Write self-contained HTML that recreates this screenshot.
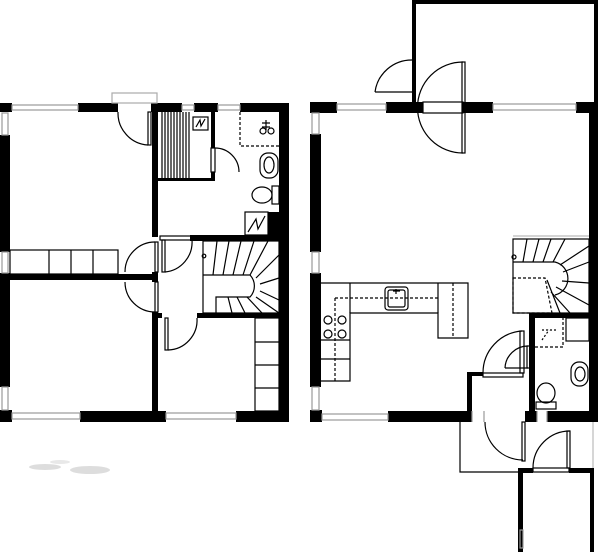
<!DOCTYPE html>
<html><head><style>body{margin:0;background:#fff}svg{display:block}</style></head><body>
<svg width="600" height="552" viewBox="0 0 600 552" xmlns="http://www.w3.org/2000/svg">
<g fill="#ddd">
<ellipse cx="45" cy="467" rx="16" ry="3"/>
<ellipse cx="90" cy="470" rx="20" ry="4"/>
<ellipse cx="60" cy="462" rx="10" ry="2" fill="#e8e8e8"/>
</g>
<g fill="#000">
<rect x="0" y="103" width="12" height="9"/>
<rect x="78" y="103" width="40" height="9"/>
<rect x="151" y="103" width="31" height="9"/>
<rect x="194" y="103" width="24" height="9"/>
<rect x="240" y="103" width="49" height="9"/>
<rect x="0" y="135" width="10" height="117"/>
<rect x="0" y="273" width="10" height="114"/>
<rect x="0" y="410" width="12" height="12"/>
<rect x="80" y="411" width="86" height="11"/>
<rect x="236" y="411" width="53" height="11"/>
<rect x="279" y="103" width="10" height="319"/>
<rect x="152" y="103" width="6" height="134"/>
<rect x="152" y="272" width="6" height="10"/>
<rect x="152" y="312" width="6" height="110"/>
<rect x="0" y="274" width="155" height="6"/>
<rect x="190" y="235" width="99" height="6"/>
<rect x="155" y="313" width="7" height="5"/>
<rect x="197" y="313" width="92" height="5"/>
<rect x="268" y="212" width="11" height="23"/>
<rect x="158" y="178" width="56" height="3"/>
<rect x="211" y="112" width="4" height="36"/>
<rect x="211" y="172" width="4" height="9"/>
<rect x="310" y="102" width="27" height="11"/>
<rect x="386" y="102" width="37" height="11"/>
<rect x="463" y="102" width="30" height="11"/>
<rect x="576" y="102" width="22" height="11"/>
<rect x="310" y="134" width="11" height="118"/>
<rect x="310" y="273" width="11" height="114"/>
<rect x="310" y="410" width="12" height="12"/>
<rect x="388" y="411" width="84" height="11"/>
<rect x="525" y="411" width="12" height="11"/>
<rect x="547" y="411" width="51" height="11"/>
<rect x="589" y="102" width="9" height="320"/>
<rect x="412" y="0" width="4" height="102"/>
<rect x="412" y="0" width="186" height="4"/>
<rect x="594" y="0" width="4" height="102"/>
<rect x="529" y="313" width="69" height="5"/>
<rect x="529" y="313" width="6" height="98"/>
<rect x="467" y="372" width="5" height="40"/>
<rect x="472" y="372" width="11" height="4"/>
<rect x="518" y="468" width="15" height="5"/>
<rect x="569" y="468" width="25" height="5"/>
<rect x="518" y="468" width="5" height="84"/>
<rect x="590" y="468" width="4" height="84"/>
</g>
<g fill="none" stroke="#000" stroke-width="1.2">
<rect x="12" y="105" width="66" height="5" stroke="#999"/>
<rect x="182" y="105" width="12" height="5" stroke="#999"/>
<rect x="218" y="105" width="22" height="5" stroke="#999"/>
<rect x="12" y="413" width="68" height="6" stroke="#999"/>
<rect x="166" y="413" width="70" height="6" stroke="#999"/>
<rect x="2" y="113" width="6" height="22" stroke="#999"/>
<rect x="2" y="252" width="6" height="21" stroke="#999"/>
<rect x="2" y="387" width="6" height="23" stroke="#999"/>
<rect x="112" y="93" width="45" height="10" stroke="#aaa"/>
<rect x="148" y="112" width="3" height="33"/>
<path d="M118 112 A32 32 0 0 0 148 145"/>
<rect x="155" y="242" width="3" height="30"/>
<path d="M125 272 A30 30 0 0 1 155 242"/>
<rect x="155" y="282" width="3" height="30"/>
<path d="M125 282 A30 30 0 0 0 155 312"/>
<rect x="160" y="236" width="32" height="4"/>
<rect x="162" y="240" width="3" height="32"/>
<path d="M192 240 A30 30 0 0 1 165 272"/>
<rect x="165" y="318" width="3" height="32"/>
<path d="M197 318 A30 30 0 0 1 168 350"/>
<rect x="211" y="148" width="4" height="24"/>
<path d="M215 148 A24 24 0 0 1 239 172"/>
<path d="M162 112V178M165 112V178M168 112V178M171 112V178M174 112V178M177 112V178M180 112V178M183 112V178M186 112V178M189 112V178"/>
<rect x="193" y="117" width="15" height="13"/>
<path d="M196 127 L200 120 L201 126 L205 119"/>
<path d="M240 112V146H279" stroke-dasharray="3 2"/>
<path d="M262 123h8M262 127h8M266 120v10"/>
<circle cx="263" cy="131" r="3"/><circle cx="271" cy="131" r="3"/>
<rect x="260" y="153" width="18" height="25" rx="8"/>
<ellipse cx="269" cy="165" rx="5" ry="8"/>
<rect x="272" y="186" width="7" height="18"/>
<ellipse cx="262" cy="195" rx="10" ry="8"/>
<rect x="245" y="212" width="23" height="23"/>
<path d="M248 232 L256 219 L258 229 L265 216"/>
<rect x="10" y="250" width="108" height="24"/>
<path d="M49 250v24M71 250v24M93 250v24"/>
<rect x="255" y="318" width="24" height="93"/>
<path d="M255 342h24M255 365h24M255 388h24"/>
<rect x="203" y="241" width="76" height="72"/>
<path d="M203 275 H250 A16 16 0 0 1 250 297 H216 V313"/>
<path d="M213 275 L217 241M223 275 L229 241M233 275 L241 241M243 275 L254 241M250 275 L268 241M256 278 L279 255M260 284 L279 278M260 291 L279 300M256 297 L279 313M247 297 L262 313M237 297 L245 313M228 297 L232 313"/>
<circle cx="204" cy="256" r="1.8"/>
<rect x="337" y="104" width="49" height="6" stroke="#999"/>
<rect x="493" y="104" width="83" height="6" stroke="#999"/>
<rect x="322" y="414" width="66" height="6" stroke="#999"/>
<rect x="312" y="113" width="7" height="21" stroke="#999"/>
<rect x="312" y="252" width="7" height="21" stroke="#999"/>
<rect x="312" y="387" width="7" height="23" stroke="#999"/>
<path d="M472 411v11M484 411v11M537 411v11M547 411v11" stroke="#999"/>
<path d="M375 92 H412 M412 60 A37 37 0 0 0 375 92"/>
<rect x="423" y="102" width="40" height="11"/>
<rect x="462" y="62" width="3" height="91"/>
<path d="M463 62 A45 45 0 0 0 463 153" />
<path d="M321 283 H468 V338 H438 V313 H350 V381 H321"/>
<path d="M350 283V313M438 283V313M321 340H350M321 359H350"/>
<path d="M335 298H440M335 298V381M453 283V338" stroke-dasharray="3 2"/>
<rect x="385" y="287" width="23" height="23" rx="3"/>
<rect x="388" y="290" width="17" height="17" rx="2"/>
<path d="M396 289v5M393 291h7"/>
<circle cx="328" cy="320" r="4"/><circle cx="342" cy="320" r="4"/>
<circle cx="328" cy="334" r="4"/><circle cx="342" cy="334" r="4"/>
<rect x="513" y="239" width="76" height="74"/>
<path d="M513 236 H589" stroke="#bbb"/>
<path d="M513 262 H555 A17 17 0 0 1 555 295"/>
<path d="M523 262 L527 239M533 262 L539 239M543 262 L551 239M553 262 L565 239M560 265 L589 246M563 272 L589 262M562 281 L589 283M556 287 L589 305M551 292 L570 313M547 280 L560 313"/>
<path d="M513 278H545L552 313H513Z" stroke-dasharray="3 2"/>
<circle cx="514" cy="257" r="2"/>
<path d="M535 347H563V318" stroke-dasharray="3 2"/>
<path d="M542 330 L557 330 M542 340 L549 330" stroke-dasharray="2 2"/>
<rect x="566" y="318" width="23" height="23"/>
<rect x="571" y="362" width="17" height="24" rx="8"/>
<ellipse cx="580" cy="374" rx="5" ry="7"/>
<ellipse cx="546" cy="393" rx="9" ry="10"/>
<rect x="536" y="402" width="20" height="7"/>
<rect x="483" y="373" width="40" height="4"/>
<rect x="520" y="331" width="4" height="42"/>
<path d="M483 373 A42 42 0 0 1 522 331"/>
<rect x="527" y="346" width="3" height="22"/>
<path d="M505 368 A23 23 0 0 1 528 346"/>
<path d="M505 368H528"/>
<path d="M460 422V472H520"/>
<rect x="522" y="422" width="3" height="39"/>
<path d="M485 422 A38 38 0 0 0 523 460"/>
<rect x="533" y="468" width="36" height="4"/>
<rect x="567" y="431" width="3" height="37"/>
<path d="M533 468 A37 37 0 0 1 570 431"/>
<path d="M593 422V468" stroke="#bbb"/>
<rect x="520" y="530" width="3" height="18" stroke="#999"/>
</g>
</svg>
</body></html>
